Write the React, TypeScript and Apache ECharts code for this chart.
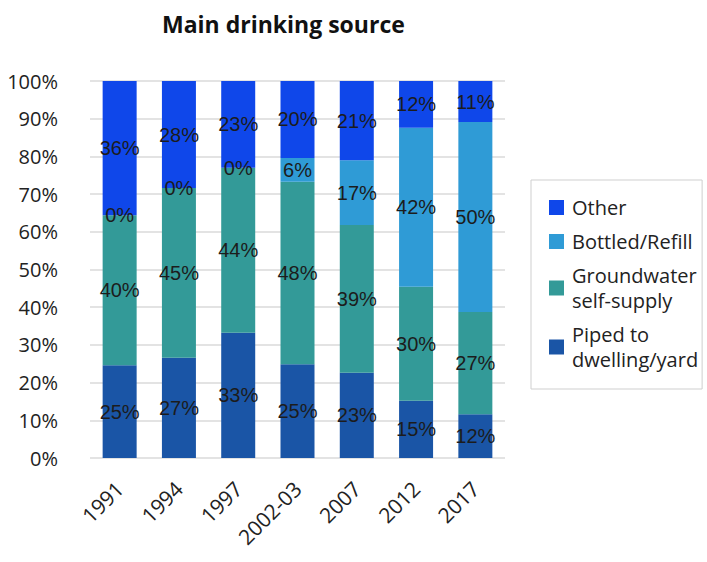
import React, { useEffect, useRef } from "react";
import * as echarts from "echarts";

const categories = ["1991", "1994", "1997", "2002-03", "2007", "2012", "2017"];
const piped = [24.6, 26.6, 33.2, 24.9, 22.6, 15.2, 11.6];
const groundwater = [39.8, 45.0, 43.8, 48.4, 39.2, 30.2, 27.1];
const bottled = [0, 0, 0, 6.3, 17.2, 42.2, 50.4];
const other = [35.6, 28.4, 23.0, 20.4, 21.0, 12.4, 10.9];

const seriesNames = ["Piped to dwelling/yard", "Groundwater self-supply", "Bottled/Refill", "Other"];
const legendLabels: Record<string, string> = {
  "Other": "Other",
  "Bottled/Refill": "Bottled/Refill",
  "Groundwater self-supply": "Groundwater\nself-supply",
  "Piped to dwelling/yard": "Piped to\ndwelling/yard",
};
const colors = ["#1a55a6", "#339a98", "#2f9bd6", "#0f47ea"];
const yTicks = { min: 0, max: 100, interval: 10 };

export default function App() {
  const ref = useRef<HTMLDivElement>(null);
  useEffect(() => {
    if (!ref.current) return;
    const chart = echarts.init(ref.current, null, { renderer: "svg" });
    const dataSets = [piped, groundwater, bottled, other];
    chart.setOption({
      animation: false,
      title: {
        text: "Main drinking source",
        left: 162,
        top: 12,
        padding: 0,
        textStyle: { fontFamily: "Open Sans", fontWeight: "bold", fontSize: 23, color: "#111" },
      },
      legend: {
        orient: "vertical",
        left: 531,
        top: 180,
        padding: [15, 4, 17, 18],
        itemWidth: 15,
        itemHeight: 15,
        itemGap: 9,
        borderColor: "#cfcfcf",
        borderWidth: 1,
        icon: "rect",
        data: ["Other", "Bottled/Refill", "Groundwater self-supply", "Piped to dwelling/yard"],
        formatter: (name: string) => legendLabels[name] ?? name,
        textStyle: { fontFamily: "Open Sans", fontSize: 20, lineHeight: 25, color: "#222", padding: [0, 0, 0, 3] },
      },
      grid: { left: 90, right: 202, top: 81, bottom: 104 },
      xAxis: {
        type: "category",
        data: categories,
        axisLine: { show: false },
        axisTick: { show: false },
        axisLabel: {
          interval: 0,
          rotate: 45,
          margin: 27,
          fontFamily: "Open Sans",
          fontSize: 21,
          color: "#222",
        },
      },
      yAxis: {
        type: "value",
        min: yTicks.min,
        max: yTicks.max,
        interval: yTicks.interval,
        axisLabel: {
          formatter: "{value}%",
          margin: 32,
          fontFamily: "Open Sans",
          fontSize: 20,
          color: "#222",
        },
        splitLine: { lineStyle: { color: "#e3e3e3", width: 2 } },
      },
      series: seriesNames.map((name, i) => ({
        name,
        type: "bar",
        stack: "total",
        barWidth: 34,
        data: dataSets[i],
        itemStyle: { color: colors[i] },
        label: {
          show: true,
          position: "inside",
          formatter: (p: any) => Math.round(p.value) + "%",
          fontFamily: "Liberation Sans",
          fontSize: 20,
          color: "#1c1c1c",
          textBorderWidth: 0,
        },
      })),
    });
    return () => chart.dispose();
  }, []);
  return (
    <div style={{ position: "fixed", left: 0, top: 0, width: 707, height: 562, background: "#fff" }}>
      <div ref={ref} style={{ width: 707, height: 562 }} />
    </div>
  );
}
